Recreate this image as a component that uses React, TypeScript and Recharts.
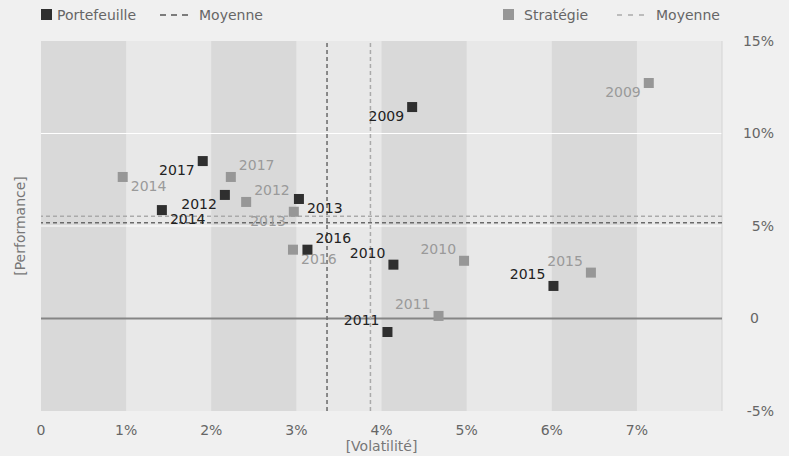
import React from 'react';
import {
  ScatterChart,
  Scatter,
  XAxis,
  YAxis,
  ReferenceArea,
  ReferenceLine,
  Label,
} from 'recharts';

const years = ['2009', '2010', '2011', '2012', '2013', '2014', '2015', '2016', '2017'];

// Portefeuille: volatility (%) and performance (%)
const portVol = [4.36, 4.14, 4.07, 2.16, 3.03, 1.42, 6.02, 3.13, 1.9];
const portPerf = [11.43, 2.91, -0.73, 6.68, 6.46, 5.86, 1.76, 3.72, 8.51];

// Stratégie
const stratVol = [7.14, 4.97, 4.67, 2.41, 2.97, 0.96, 6.46, 2.96, 2.23];
const stratPerf = [12.73, 3.12, 0.14, 6.3, 5.77, 7.65, 2.48, 3.72, 7.65];

// Means
const portMeanVol = 3.36;
const portMeanPerf = 5.18;
const stratMeanVol = 3.87;
const stratMeanPerf = 5.53;

const xTicks = [0, 1, 2, 3, 4, 5, 6, 7];
const yTicks = [-5, 0, 5, 10, 15];
const bands = [
  [0, 1],
  [2, 3],
  [4, 5],
  [6, 7],
];

// label placement (style): tl, tr, bl, br
const portPlacement: Record<string, string> = {
  '2009': 'bl', '2010': 'tl', '2011': 'tl', '2012': 'bl', '2013': 'br',
  '2014': 'br', '2015': 'tl', '2016': 'tr', '2017': 'bl',
};
const stratPlacement: Record<string, string> = {
  '2009': 'bl', '2010': 'tl', '2011': 'tl', '2012': 'tr', '2013': 'bl',
  '2014': 'br', '2015': 'tl', '2016': 'br', '2017': 'tr',
};

const portData = years.map((year, i) => ({ x: portVol[i], y: portPerf[i], year }));
const stratData = years.map((year, i) => ({ x: stratVol[i], y: stratPerf[i], year }));

const PORT_COLOR = '#2f2f2f';
const STRAT_COLOR = '#979797';
const FONT = '"DejaVu Sans", Verdana, sans-serif';

const makeShape = (color: string, textColor: string, placement: Record<string, string>) => (props: any) => {
  const { cx, cy, payload } = props;
  if (cx == null || cy == null) return null;
  const pl = placement[payload.year] || 'tr';
  const left = pl[1] === 'l';
  const top = pl[0] === 't';
  const tx = left ? cx - 8 : cx + 8;
  const ty = top ? cy - 12 : cy + 9;
  return (
    <g>
      <rect x={cx - 5} y={cy - 5} width={10} height={10} fill={color} />
      <text
        x={tx}
        y={ty}
        dy="0.35em"
        textAnchor={left ? 'end' : 'start'}
        fill={textColor}
        fontSize={14}
        fontFamily={FONT}
      >
        {payload.year}
      </text>
    </g>
  );
};

const fmt = (v: number) => (v === 0 ? '0' : `${v}%`);

const RightTick = (props: any) => {
  const { x, y, payload } = props;
  const v = payload.value;
  const endX = v === 0 ? x + 37 : x + 52;
  return (
    <text x={endX} y={y} dy="0.35em" textAnchor="end" fill="#666" fontSize={14} fontFamily={FONT}>
      {fmt(v)}
    </text>
  );
};

const YLabel = (props: any) => {
  const vb = props.viewBox || { x: 0, y: 41, width: 41, height: 370 };
  const cx = vb.x + 20;
  const cy = vb.y + vb.height / 2;
  return (
    <text
      x={cx}
      y={cy}
      dy="0.35em"
      transform={`rotate(-90 ${cx} ${cy})`}
      textAnchor="middle"
      fill="#777"
      fontSize={14}
      fontFamily={FONT}
    >
      [Performance]
    </text>
  );
};

const LegendOverlay = () => (
  <svg
    width={789}
    height={32}
    style={{ position: 'absolute', left: 0, top: 0, pointerEvents: 'none' }}
  >
    <rect x={41} y={9} width={11} height={11} fill={PORT_COLOR} />
    <text x={57} y={15} dy="0.35em" fill="#666" fontSize={14} fontFamily={FONT}>
      Portefeuille
    </text>
    <line x1={160} y1={15} x2={190} y2={15} stroke="#555" strokeWidth={1.5} strokeDasharray="6 5" />
    <text x={199} y={15} dy="0.35em" fill="#666" fontSize={14} fontFamily={FONT}>
      Moyenne
    </text>
    <rect x={503} y={9} width={11} height={11} fill={STRAT_COLOR} />
    <text x={524} y={15} dy="0.35em" fill="#666" fontSize={14} fontFamily={FONT}>
      Stratégie
    </text>
    <line x1={617} y1={15} x2={645} y2={15} stroke="#aaa" strokeWidth={1.5} strokeDasharray="5 6" />
    <text x={656} y={15} dy="0.35em" fill="#666" fontSize={14} fontFamily={FONT}>
      Moyenne
    </text>
  </svg>
);

export default function App() {
  return (
    <div
      style={{
        position: 'absolute',
        left: 0,
        top: 0,
        width: 789,
        height: 456,
        background: '#f0f0f0',
        fontFamily: FONT,
      }}
    >
      <ScatterChart width={789} height={456} margin={{ top: 41, right: 0, bottom: 0, left: 0 }}>
        <XAxis
          type="number"
          dataKey="x"
          domain={[0, 8]}
          ticks={xTicks}
          allowDataOverflow
          tickFormatter={fmt}
          axisLine={false}
          tickLine={false}
          tickSize={0}
          tickMargin={14}
          height={45}
          tick={{ fill: '#666', fontSize: 14, fontFamily: FONT }}
        >
          <Label value="[Volatilité]" position="insideBottom" offset={5} fill="#777" fontSize={14} fontFamily={FONT} />
        </XAxis>
        <YAxis
          yAxisId="l"
          orientation="left"
          type="number"
          domain={[-5, 15]}
          width={41}
          tick={false}
          axisLine={false}
          tickLine={false}
          label={<YLabel />}
        />
        <YAxis
          yAxisId="r"
          orientation="right"
          type="number"
          dataKey="y"
          domain={[-5, 15]}
          ticks={yTicks}
          allowDataOverflow
          width={67}
          axisLine={false}
          tickLine={false}
          tickSize={0}
          tickMargin={0}
          tick={<RightTick />}
        />
        <ReferenceArea yAxisId="r" x1={0} x2={8} y1={-5} y2={15} fill="#e8e8e8" fillOpacity={1} stroke="none" />
        {bands.map(([a, b]) => (
          <ReferenceArea
            key={a}
            yAxisId="r"
            x1={a}
            x2={b}
            y1={-5}
            y2={15}
            fill="#d9d9d9"
            fillOpacity={1}
            stroke="none"
          />
        ))}
        <ReferenceLine yAxisId="r" y={10} stroke="#ffffff" strokeWidth={1.2} />
        <ReferenceLine yAxisId="r" y={5} stroke="#ffffff" strokeWidth={1.2} />
        <ReferenceLine yAxisId="r" x={8} stroke="#d4d4d4" strokeWidth={1} />
        <ReferenceLine yAxisId="r" y={0} stroke="#858585" strokeWidth={2} />
        <ReferenceLine yAxisId="r" y={stratMeanPerf} stroke="#aaaaaa" strokeWidth={1.5} strokeDasharray="4 3" />
        <ReferenceLine yAxisId="r" y={portMeanPerf} stroke="#6a6a6a" strokeWidth={1.5} strokeDasharray="4 3" />
        <ReferenceLine yAxisId="r" x={stratMeanVol} stroke="#aaaaaa" strokeWidth={1.5} strokeDasharray="4 3" />
        <ReferenceLine yAxisId="r" x={portMeanVol} stroke="#6a6a6a" strokeWidth={1.5} strokeDasharray="4 3" />
        <Scatter
          yAxisId="r"
          data={stratData}
          isAnimationActive={false}
          shape={makeShape(STRAT_COLOR, '#9a9a9a', stratPlacement)}
        />
        <Scatter
          yAxisId="r"
          data={portData}
          isAnimationActive={false}
          shape={makeShape(PORT_COLOR, '#222', portPlacement)}
        />
      </ScatterChart>
      <LegendOverlay />
    </div>
  );
}
